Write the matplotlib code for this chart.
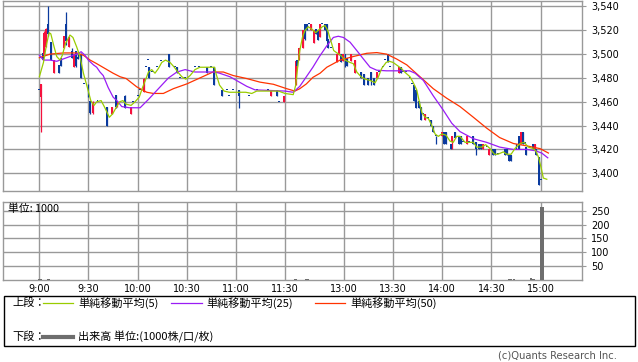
import matplotlib
matplotlib.use('Agg')
import matplotlib.pyplot as plt
from matplotlib.patches import Rectangle
from matplotlib.ticker import FuncFormatter

plt.rcParams['font.family'] = ['DejaVu Sans']
JP = ['Noto Sans CJK JP', 'DejaVu Sans']

# time axis in minutes: 9:00 = 0, 11:30 = 150, 12:30 = 156 (lunch squeezed), 15:00 = 306
tick_pos = [0, 30, 60, 90, 120, 150, 186, 216, 246, 276, 306]
tick_lab = ['9:00', '9:30', '10:00', '10:30', '11:00', '11:30',
            '13:00', '13:30', '14:00', '14:30', '15:00']

# 1-minute candles (minute, open, high, low, close)
cd_t = [0, 1, 2, 3, 4, 5.5, 7, 9, 12, 13, 15, 16.5, 18, 20, 21, 22.5, 23.5, 25.5, 27.5, 30,
        31, 33, 35.5, 41.5, 44.5, 46.5, 47.7, 52.5, 56, 57.3, 60, 61.2, 63.8, 65, 66.2, 67.2,
        68.8, 71.7, 74.5, 79, 82.6, 83.9, 86, 88.8, 93.2, 94.9, 97.5, 102.4, 104.7, 106.6,
        111.5, 114.6, 116, 118.2, 121.9, 128.1, 132.7, 139.8, 141.6, 145.1, 146.4, 149.4,
        156.4, 157.5, 158.5, 160.9, 161.9, 163.2, 164.7, 166.1, 167.6, 168.8, 169.9, 171.2,
        172.8, 174.2, 175.4, 176.5, 178.3, 181.6, 183.1, 184.3, 185.6, 186.9, 188.1, 190.5,
        192.6, 196.6, 198.2, 200.5, 202.2, 204.5, 206.1, 207.3, 209.8, 211, 212.6, 213.9,
        219.5, 220.7, 222, 223.7, 226.5, 227.5, 228.9, 230.1, 231.5, 233.2, 234.4, 235.5,
        237.3, 239.1, 240.3, 242, 245.6, 246.8, 248.5, 251.3, 252.2, 253.8, 256, 257.2,
        258.8, 261.1, 262.5, 265, 266.6, 268.2, 269.8, 271, 273.4, 274.7, 276.8, 278, 280,
        284.4, 285.6, 286.6, 287.8, 291.3, 292.6, 293.8, 295.1, 296.3, 297.2, 301.2, 302.4,
        303.2, 304.9, 306.2]
cd_o = [3470, 3464, 3501, 3499, 3506, 3525, 3510, 3484, 3491, 3497, 3505, 3525, 3506, 3503, 3489, 3503, 3498, 3500, 3475, 3474,
        3461, 3451, 3461, 3456, 3450, 3466, 3456, 3465, 3450, 3460, 3465, 3470, 3468, 3489, 3495, 3489,
        3485, 3489, 3494, 3500, 3489, 3489, 3480, 3480, 3485, 3489, 3489, 3489, 3489, 3489,
        3470, 3470, 3465, 3470, 3470, 3465, 3470, 3470, 3465, 3470, 3460, 3460,
        3474, 3495, 3495, 3505, 3525, 3525, 3525, 3520, 3509, 3521, 3520, 3514,
        3525, 3525, 3525, 3513, 3505, 3493, 3499, 3500, 3494, 3500, 3497, 3494,
        3484, 3485, 3483, 3480, 3485, 3480, 3480, 3485, 3489, 3495, 3500, 3489,
        3484, 3489, 3485, 3485, 3480, 3475, 3474, 3470, 3461, 3456, 3450, 3445,
        3446, 3445, 3440, 3431, 3431, 3435, 3435, 3425, 3426, 3435, 3431, 3431,
        3426, 3425, 3426, 3431, 3426, 3425, 3425, 3420, 3422, 3415, 3420, 3420, 3416,
        3420, 3420, 3415, 3415, 3425, 3431, 3425, 3435, 3425, 3422, 3425, 3420,
        3420, 3414, 3394]
cd_h = [3470, 3475, 3501, 3519, 3522, 3540, 3510, 3495, 3491, 3497, 3515, 3535, 3514, 3505, 3500, 3503, 3500, 3501, 3475, 3475,
        3461, 3461, 3461, 3456, 3456, 3466, 3461, 3466, 3456, 3460, 3465, 3470, 3480, 3489, 3495, 3489,
        3485, 3489, 3494, 3500, 3489, 3489, 3480, 3480, 3485, 3489, 3489, 3489, 3489, 3489,
        3470, 3470, 3465, 3470, 3470, 3465, 3470, 3470, 3470, 3470, 3460, 3465,
        3495, 3495, 3505, 3520, 3525, 3525, 3525, 3525, 3520, 3521, 3520, 3525,
        3525, 3525, 3525, 3513, 3505, 3500, 3509, 3500, 3500, 3500, 3497, 3500,
        3495, 3485, 3483, 3480, 3485, 3480, 3485, 3485, 3489, 3495, 3500, 3489,
        3489, 3489, 3485, 3485, 3480, 3475, 3474, 3470, 3461, 3456, 3450, 3450,
        3446, 3445, 3440, 3431, 3435, 3435, 3435, 3425, 3431, 3435, 3431, 3431,
        3426, 3431, 3426, 3431, 3426, 3425, 3425, 3425, 3422, 3420, 3420, 3420, 3416,
        3420, 3420, 3415, 3415, 3425, 3431, 3435, 3435, 3425, 3422, 3425, 3425,
        3420, 3414, 3394]
cd_l = [3470, 3435, 3495, 3499, 3506, 3515, 3495, 3484, 3484, 3490, 3505, 3508, 3506, 3497, 3489, 3489, 3496, 3480, 3475, 3464,
        3450, 3450, 3461, 3440, 3450, 3455, 3456, 3455, 3450, 3460, 3465, 3470, 3468, 3489, 3495, 3480,
        3485, 3489, 3494, 3489, 3489, 3484, 3480, 3480, 3485, 3489, 3489, 3484, 3489, 3474,
        3465, 3470, 3465, 3470, 3455, 3465, 3470, 3470, 3465, 3465, 3460, 3460,
        3474, 3490, 3495, 3505, 3512, 3520, 3525, 3520, 3509, 3517, 3512, 3514,
        3525, 3520, 3511, 3505, 3505, 3493, 3499, 3493, 3494, 3489, 3490, 3494,
        3484, 3480, 3474, 3474, 3474, 3474, 3480, 3485, 3489, 3495, 3493, 3489,
        3484, 3484, 3485, 3485, 3480, 3475, 3461, 3455, 3455, 3445, 3450, 3445,
        3446, 3440, 3435, 3425, 3431, 3425, 3425, 3420, 3420, 3430, 3425, 3425,
        3426, 3425, 3426, 3425, 3415, 3420, 3420, 3420, 3422, 3415, 3415, 3415, 3416,
        3415, 3415, 3410, 3410, 3420, 3420, 3425, 3425, 3425, 3415, 3420, 3420,
        3415, 3390, 3394]
cd_c = [3470, 3475, 3495, 3518, 3521, 3517, 3495, 3495, 3484, 3490, 3515, 3511, 3514, 3497, 3500, 3490, 3496, 3480, 3475, 3464,
        3451, 3460, 3461, 3440, 3456, 3456, 3461, 3455, 3456, 3460, 3465, 3470, 3479, 3489, 3495, 3480,
        3485, 3489, 3494, 3489, 3489, 3484, 3480, 3480, 3485, 3489, 3489, 3484, 3489, 3474,
        3465, 3470, 3465, 3470, 3465, 3465, 3470, 3470, 3470, 3465, 3460, 3465,
        3494, 3490, 3505, 3520, 3513, 3520, 3525, 3525, 3520, 3517, 3512, 3525,
        3525, 3520, 3511, 3505, 3505, 3500, 3509, 3493, 3500, 3489, 3490, 3500,
        3495, 3480, 3474, 3474, 3478, 3474, 3485, 3485, 3489, 3495, 3493, 3489,
        3489, 3484, 3485, 3485, 3480, 3475, 3461, 3455, 3455, 3445, 3450, 3450,
        3446, 3440, 3435, 3431, 3435, 3425, 3425, 3420, 3431, 3430, 3425, 3425,
        3426, 3431, 3426, 3425, 3420, 3420, 3420, 3425, 3422, 3420, 3415, 3415, 3416,
        3415, 3415, 3410, 3410, 3420, 3420, 3435, 3425, 3425, 3415, 3420, 3425,
        3415, 3390, 3394]

# moving averages
ma5_t = [0, 2.5, 4.5, 6, 7, 9, 10.6, 12.6, 14, 16, 18.7, 20.5, 22.8, 24.8, 26.9, 29.3, 31.4, 33.4,
         35, 37.7, 40, 42.7, 44.8, 46.8, 49, 51, 53, 56, 58.4, 61, 63, 65, 66.6, 68.6, 70.6, 72.7,
         74.7, 77, 79.8, 82.4, 84.5, 87, 89.4, 92, 95, 98, 107, 108, 110, 112.8, 116, 126, 129.7,
         132.7, 146, 150, 155, 156.5, 157.7, 159, 160.6, 162.2, 164.2, 166.3, 168.7, 170.3, 172.8,
         174.4, 176, 178, 179.7, 181.7, 184, 186.6, 189.7, 191.7, 193.8, 196.4, 198.8, 201.8, 205,
         207, 209, 211.7, 213.7, 216, 219, 221, 223, 226.3, 228.3, 230.4, 232, 233.5, 235.5, 237.5,
         239.6, 241.6, 243.6, 245.7, 248.3, 250.7, 252.7, 254.8, 256.8, 259.9, 265, 267, 270,
         272.5, 275, 277.8, 280, 283.3, 285.3, 288, 290.5, 293.5, 296, 298.5, 301, 303, 304.6,
         306.3, 307.7, 309.8]
ma5_v = [3481, 3493, 3509, 3518, 3517, 3506, 3498, 3495, 3499, 3509, 3516, 3514, 3506, 3498, 3484, 3472, 3461, 3457,
         3460, 3461, 3455, 3447, 3450, 3455, 3460, 3461, 3458, 3457, 3460, 3464, 3472, 3479, 3485, 3487, 3484, 3488,
         3493, 3495, 3493, 3489, 3485, 3481, 3479, 3482, 3487, 3489, 3489, 3483, 3474, 3469, 3468, 3468, 3467,
         3469, 3469, 3467, 3466, 3474, 3489, 3503, 3514, 3520, 3523, 3521, 3518, 3520, 3523,
         3524, 3520, 3511, 3503, 3501, 3499, 3495, 3493, 3492, 3485, 3481, 3479, 3478, 3476,
         3481, 3488, 3493, 3494, 3493, 3490, 3488, 3485, 3481, 3476, 3470, 3460, 3451, 3447, 3446,
         3440, 3433, 3431, 3433, 3432, 3427, 3426, 3431, 3431, 3426, 3426, 3422, 3422,
         3424, 3421, 3416, 3416, 3418, 3416, 3416, 3421, 3425, 3426, 3422, 3421, 3419, 3414,
         3405, 3396, 3395]
ma25_t = [0, 2.5, 6.5, 10.6, 14.7, 18.7, 22.8, 25.5, 27.9, 29.9, 33, 35, 37, 39, 42, 45, 48, 50.3,
          55, 61.5, 66.6, 72.7, 78.8, 84, 89, 95, 101, 107, 110, 116.4, 121.5, 126.6, 131.7, 150,
          155, 159, 163, 167, 171, 175.5, 179.5, 182.5, 185.6, 189.7, 193.8, 197.8, 201.9, 206, 212,
          226, 229.4, 234.4, 240.5, 246.6, 251.8, 256.8, 265, 273, 281, 289.4, 297.6, 302.6, 306.7,
          310.4]
ma25_v = [3499, 3495, 3495, 3494, 3496, 3498, 3500, 3502, 3499, 3495, 3491, 3489, 3485, 3482, 3472, 3464, 3460, 3456,
          3455, 3455, 3462, 3471, 3480, 3485, 3487, 3485, 3485, 3485, 3484, 3481, 3477, 3473, 3470, 3469,
          3468, 3473, 3481, 3489, 3498, 3507, 3514, 3515, 3514, 3510, 3503, 3496, 3489, 3486.5, 3486,
          3486, 3484, 3478, 3465, 3453, 3442, 3435, 3429, 3426, 3422, 3420, 3420, 3419, 3417,
          3413]
ma50_t = [0, 6.5, 14.7, 22.8, 26.9, 31, 35, 40, 45, 49.3, 53, 59.5, 65.6, 69.6, 75.7, 81.8, 90, 98,
          106, 112.3, 118.4, 126.6, 134.7, 142.9, 151, 156, 159, 163, 167, 171.4, 175.5, 183.6,
          191.7, 199.9, 206, 212, 218, 224.3, 232.4, 240.5, 248.7, 256.8, 265, 273, 281, 289.4,
          297.6, 305.7, 310.8]
ma50_v = [3497, 3500, 3501, 3501, 3499, 3495, 3492, 3488, 3484, 3481, 3479.5, 3472.5, 3468, 3467, 3467, 3471, 3475, 3480,
          3485, 3485, 3482, 3479.5, 3476.5, 3474.7, 3471, 3469, 3471, 3475, 3480.5, 3484, 3489, 3495,
          3498, 3500.7, 3501.3, 3500, 3496, 3491, 3481, 3471, 3463, 3456, 3447, 3438, 3430, 3425,
          3423, 3420.7, 3417]

# volume (1000 shares)
vol_t = [0, 1, 5, 6, 156, 157, 163, 164, 287, 288, 290, 300, 301, 302, 306.9]
vol_v = [4, 3, 4, 3, 3, 4, 4, 3, 5, 4, 4, 9, 6, 6, 262]

RED = '#f5113d'
BLUE = '#0a3a9e'
GRID = '#999999'

fig = plt.figure(figsize=(6.38, 3.62), dpi=100)
W, H = 638.0, 362.0
ax = fig.add_axes([3 / W, 1 - 190.7 / H, 579 / W, 190.2 / H])
axv = fig.add_axes([3 / W, 1 - 280.2 / H, 579 / W, 78.5 / H])

for a in (ax, axv):
    a.set_xlim(-22.2, 331.3)
    a.set_xticks(tick_pos)
    a.grid(True, color=GRID, lw=1.0)
    a.set_axisbelow(True)
    for s in a.spines.values():
        s.set_color(GRID)
        s.set_linewidth(1.0)
    a.yaxis.tick_right()
    a.tick_params(axis='y', colors=GRID, labelcolor='black', length=3, width=0.8,
                  pad=3.5, labelsize=7)
    a.tick_params(axis='x', length=0, labelsize=7, pad=3)

# price panel
ax.set_ylim(3385.4, 3545)
ax.set_yticks(range(3400, 3541, 20))
ax.yaxis.set_major_formatter(FuncFormatter(lambda v, p: f'{int(v):,}'))
ax.set_xticklabels([])

cols = [RED if c > o else BLUE for o, c in zip(cd_o, cd_c)]
ax.vlines(cd_t, cd_l, cd_h, colors=cols, lw=0.9, zorder=3)
bottoms = [min(o, c) for o, c in zip(cd_o, cd_c)]
heights = [max(abs(c - o), 0.9) for o, c in zip(cd_o, cd_c)]
ax.bar(cd_t, heights, bottom=bottoms, width=1.2, color=cols, lw=0, zorder=3)

ax.plot(ma50_t, ma50_v, color='#ff3300', lw=0.9, zorder=4)
ax.plot(ma25_t, ma25_v, color='#9a1cf5', lw=0.9, zorder=4)
ax.plot(ma5_t, ma5_v, color='#99cc00', lw=0.9, zorder=4)

# volume panel
axv.set_ylim(0, 282)
axv.set_yticks([50, 100, 150, 200, 250])
axv.set_xticklabels(tick_lab)
vw = [2.4 if v > 100 else 1.2 for v in vol_v]
axv.bar(vol_t, vol_v, width=vw, color='#6e6e6e', lw=0, zorder=3)
axv.text(5 / 579, 1 - 7.5 / 78.5, '単位: 1000', transform=axv.transAxes, fontsize=7.8,
         family=JP, va='center', ha='left', zorder=5)

# legend box drawn in pixel coordinates
lg = fig.add_axes([0, 0, 1, 1], zorder=-1)
lg.set_xlim(0, W)
lg.set_ylim(H, 0)
lg.axis('off')
FS = 8
lg.add_patch(Rectangle((3.5, 296), 631, 50, fill=False, ec='black', lw=1.0))
lg.text(12, 303, '上段：', family=JP, fontsize=FS, va='center')
lg.plot([43, 73], [303, 303], color='#99cc00', lw=0.9)
lg.text(78, 303, '単純移動平均(5)', family=JP, fontsize=FS, va='center')
lg.plot([171, 202], [303, 303], color='#9a1cf5', lw=0.9)
lg.text(206, 303, '単純移動平均(25)', family=JP, fontsize=FS, va='center')
lg.plot([315, 345], [303, 303], color='#ff3300', lw=0.9)
lg.text(350, 303, '単純移動平均(50)', family=JP, fontsize=FS, va='center')
lg.text(12, 337, '下段：', family=JP, fontsize=FS, va='center')
lg.plot([43, 73], [337, 337], color='#6e6e6e', lw=3)
lg.text(78, 337, '出来高 単位:(1000株/口/枚)', family=JP, fontsize=FS, va='center')
lg.text(617, 355, '(c)Quants Research Inc.', fontsize=7.2, color='#555555',
        va='center', ha='right')

fig.savefig('out.png', dpi=100)
